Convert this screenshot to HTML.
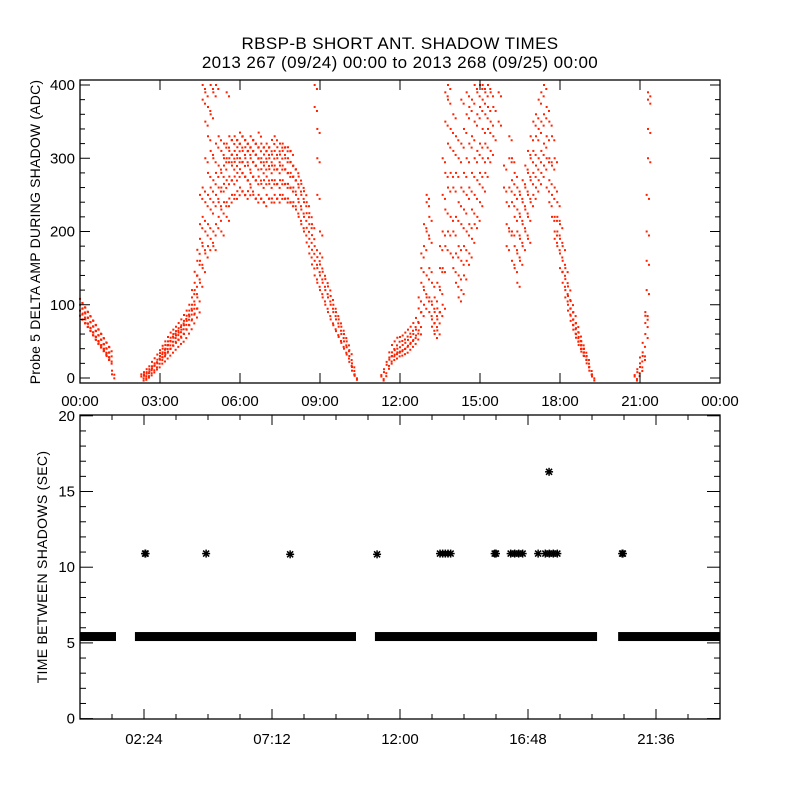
<!DOCTYPE html>
<html><head><meta charset="utf-8"><style>
html,body{margin:0;padding:0;background:#fff}
svg{display:block}
text{font-family:"Liberation Sans",sans-serif;fill:#000}
</style></head><body>
<svg id="chart" width="800" height="800" viewBox="0 0 800 800" xmlns="http://www.w3.org/2000/svg">
<rect width="800" height="800" fill="#fff"/>
<text x="400" y="49" font-size="17" letter-spacing="0.4" text-anchor="middle">RBSP-B SHORT ANT. SHADOW TIMES</text>
<text x="400" y="68" font-size="17" letter-spacing="0.4" text-anchor="middle">2013 267 (09/24) 00:00 to 2013 268 (09/25) 00:00</text>
<g id="topPlot"></g>
<g id="botPlot"></g>
<text transform="translate(40,232) rotate(-90)" font-size="14" letter-spacing="0.2" text-anchor="middle">Probe 5 DELTA AMP DURING SHADOW (ADC)</text>
<text transform="translate(47,567) rotate(-90)" font-size="14" letter-spacing="0.3" text-anchor="middle">TIME BETWEEN SHADOWS (SEC)</text>
</svg>
<script>
// ---- top plot data: hour of sample columns and amplitudes (ADC) ----
const ampHours=[0.0,0.1,0.2,0.3,0.4,0.5,0.6,0.7,0.8,0.9,1.0,1.1,1.2,
2.3,2.4,2.5,2.6,2.7,2.8,2.9,3.0,3.1,3.2,3.3,3.4,3.5,3.6,3.7,3.8,3.9,4.0,4.1,4.2,4.3,4.4,4.5,4.6,4.7,4.8,4.9,5.0,5.1,5.2,5.3,5.4,5.5,5.6,5.7,5.8,5.9,6.0,6.1,6.2,6.3,6.4,6.5,6.6,6.7,6.8,6.9,7.0,7.1,7.2,7.3,7.4,7.5,7.6,7.7,7.8,7.9,8.0,8.1,8.2,8.3,8.4,8.5,8.6,8.7,8.8,8.9,9.0,9.1,9.2,9.3,9.4,9.5,9.6,9.7,9.8,9.9,10.0,10.1,10.2,10.3,
11.3,11.4,11.5,11.6,11.7,11.8,11.9,12.0,12.1,12.2,12.3,12.4,12.5,12.6,12.7,12.8,12.9,13.0,13.1,13.2,13.3,13.4,13.5,13.6,13.7,13.8,13.9,14.0,14.1,14.2,14.3,14.4,14.5,14.6,14.7,14.8,14.9,15.0,15.1,15.2,15.3,15.4,15.5,15.7,15.9,16.0,16.1,16.2,16.3,16.4,16.5,16.6,16.7,16.8,16.9,17.0,17.1,17.2,17.3,17.4,17.5,17.6,17.7,17.8,17.9,18.0,18.1,18.2,18.3,18.4,18.5,18.6,18.7,18.8,18.9,19.0,19.1,19.2,
20.8,20.9,21.0,21.1,21.2,21.25,21.3];
const ampValues=[[100,108,92,85],[95,102,88,80],[88,96,80,75],[82,90,74,70],[76,84,68,64],[70,78,62,58],[64,72,56,52],[58,66,50,47],[52,60,45,42],[46,54,40,37],[40,48,34,30],[35,42,28,25],[10,5],
[2,5],[5,8,3],[8,12,6],[12,16,9],[16,22,13],[20,27,17],[25,32,20],[30,38,25,34],[35,44,28,40],[40,50,32,45],[45,56,36,50],[50,62,40,55],[55,66,44,60],[58,70,48,64],[62,75,52,68],[66,80,55,72],[72,86,60,78],[78,92,66,85],[84,100,72,92],[92,110,80,100,120],[100,120,88,130,145],[110,140,160,95,175],[130,160,190,210,250],[150,180,220,260,380,400],[170,200,240,300,350,390],[180,210,250,280,330,370],[190,230,260,310,360,400],[200,240,270,300,180,390],[210,250,280,320,400],[220,260,290,330,240],[230,260,280,310,200],[240,265,290,320,300],[240,270,300,320,390,220],[245,275,300,310,330],[250,270,290,305,325],[250,275,295,310,330],[255,280,300,315,325],[260,285,300,320,335],[255,280,295,310,330],[250,275,300,315,325],[255,270,290,310,320],[260,280,300,315,330],[250,275,295,310,325],[245,270,290,305,320],[250,275,300,315,335],[245,265,285,300,320],[240,270,290,305,315],[250,275,295,310,320],[245,265,285,300,315],[245,270,290,305,325],[250,270,290,310,330],[245,265,285,300,315],[250,270,290,305,320],[250,270,290,310,320],[245,265,285,300,315],[245,265,280,300,315],[240,260,280,295,310],[240,260,275,290],[230,250,270,285],[220,240,260,275],[210,230,250,265],[200,220,240,255],[185,205,225,240],[170,190,210,225],[155,175,195,210],[140,160,180,400,370],[130,150,165,340,300,250],[120,140,155,200,170],[110,130,145],[100,120,135],[90,110,125],[80,100,112],[72,90,100],[64,80,90],[56,70,80],[48,60,70],[40,50,60],[32,42,50],[22,30,38],[10,15,20],[3,5],
[2,4],[8,12],[18,22],[28,35,25],[35,45,30],[38,50,32],[40,55,35],[42,56,36],[45,58,38],[48,62,40],[52,66,44],[56,70,48],[60,75,52],[66,82,58],[75,95,65,110],[90,130,150,170],[120,180,210,100],[140,200,240,250,110],[110,150,190,220,90],[80,100,130,70],[60,75,90,110],[65,80,95,130],[90,120,150,180],[150,200,250,300,100],[180,230,280,350,390],[200,260,320,380,400],[170,220,280,340],[150,200,260,310,360],[130,170,220,280,330],[110,140,180,240,300],[120,160,210,260,320,380],[140,180,230,280,340],[160,200,250,300,360,390],[170,210,260,320,370],[190,230,280,330,380],[210,250,300,350,400],[220,270,310,360,390],[240,280,320,370,400],[260,300,340,380,400],[280,320,360,390],[300,340,370,400],[310,350,390],[330,370],[390,350],[290,260],[240,210,180],[330,300,260,200],[300,270,240,200,160],[280,250,220,180,150],[260,230,200,170,130],[250,220,190,160],[270,240,210,180],[290,260,230,200],[310,280,250,220,190],[330,300,270,240],[350,310,280,250],[360,330,290,260],[380,340,300,270],[390,350,310,280],[400,360,320,290],[370,330,300,260],[350,300,270,240],[330,290,250,220],[300,260,220,200,190],[240,220,200,180],[210,190,170,150],[180,160,145,130],[150,135,120,110],[125,112,100,92],[105,95,85,78],[90,80,72,66],[75,68,60,55],[62,56,50,45],[50,45,40,36],[40,35,30],[30,25,20],[15,10],[5,2],
[2,4],[8,12],[20,28,15],[35,48,30],[60,75,85,90],[120,160,200,250],[300,340,380,390]];
const topYTicks=[0,100,200,300,400];
const topXTickLabels=["00:00","03:00","06:00","09:00","12:00","15:00","18:00","21:00","00:00"];
// ---- bottom plot data ----
const runStart=[0,2.06,11.06,20.18];
const runEnd=[1.35,10.35,19.39,24];
const runValue=[5.42,5.42,5.42,5.42];
const starHours=[2.44,2.46,4.73,7.88,11.14,13.5,13.6,13.7,13.8,13.9,15.55,15.6,16.15,16.3,16.45,16.6,17.18,17.45,17.6,17.75,17.9,20.33,20.36,17.59];
const starValues=[10.9,10.9,10.9,10.85,10.85,10.9,10.9,10.9,10.9,10.9,10.9,10.9,10.9,10.9,10.9,10.9,10.9,10.9,10.9,10.9,10.9,10.9,10.9,16.3];
const botYTicks=[0,5,10,15,20];
const botXTicks=[2.4,7.2,12.0,16.8,21.6];
const botXTickLabels=["02:24","07:12","12:00","16:48","21:36"];

const NS="http://www.w3.org/2000/svg";
function mk(parent,tag,attrs){const e=document.createElementNS(NS,tag);for(const k in attrs)e.setAttribute(k,attrs[k]);parent.appendChild(e);return e;}
const L=80,R=720;
const xH=h=>L+(h/24)*(R-L);
// top axes
const tT=80,tB=383;
const yA=v=>378-v*0.7325;
const topG=document.getElementById('topPlot');
const ptsG=mk(topG,'g',{fill:'#ff2200'});


ampHours.forEach((h,i)=>{ampValues[i].forEach(v=>{
  if(v>407)return;
  const r=mk(ptsG,'rect',{x:xH(h)-1,y:yA(v)-1,width:2,height:2});
  
  
  const r2=mk(ptsG,'rect',{x:xH(h)+1.3,y:yA(v)+3,width:2,height:2});
  
  
});});
const tf=mk(topG,'rect',{x:L,y:tT,width:R-L,height:tB-tT,fill:'none',stroke:'#000','stroke-width':1.3});


for(let v=0;v<=400;v+=20){const major=v%100===0;const len=major?10:5;
  mk(topG,'line',{x1:L,x2:L+len,y1:yA(v),y2:yA(v),stroke:'#000'});
  mk(topG,'line',{x1:R,x2:R-len,y1:yA(v),y2:yA(v),stroke:'#000'});}
topYTicks.forEach(v=>{const t=mk(topG,'text',{x:L-5,y:yA(v)+5,'font-size':15,'text-anchor':'end'});t.textContent=v;
  
  });
topXTickLabels.forEach((s,i)=>{const x=xH(i*3);
  mk(topG,'line',{x1:x,x2:x,y1:tB,y2:tB-10,stroke:'#000'});
  mk(topG,'line',{x1:x,x2:x,y1:tT,y2:tT+10,stroke:'#000'});
  const t=mk(topG,'text',{x:x,y:406,'font-size':15,'text-anchor':'middle'});t.textContent=s;
  
  });
// bottom axes
const bT=415,bB=719;
const yS=v=>718.6-v*15.14;
const botG=document.getElementById('botPlot');
runStart.forEach((s,i)=>{const r=mk(botG,'rect',{x:xH(s),y:yS(runValue[i])-4.5,width:xH(runEnd[i])-xH(s),height:9,fill:'#000'});
  
  });
starHours.forEach((h,i)=>{const cx=xH(h),cy=yS(starValues[i]);const g=mk(botG,'g',{stroke:'#000','stroke-width':1.5});
  
  
  mk(g,'line',{x1:cx-4,x2:cx+4,y1:cy,y2:cy});mk(g,'line',{x1:cx,x2:cx,y1:cy-4,y2:cy+4});
  mk(g,'line',{x1:cx-3,x2:cx+3,y1:cy-3,y2:cy+3});mk(g,'line',{x1:cx-3,x2:cx+3,y1:cy+3,y2:cy-3});});
const bf=mk(botG,'rect',{x:L,y:bT,width:R-L,height:bB-bT,fill:'none',stroke:'#000','stroke-width':1.3});


for(let v=0;v<=20;v+=1){const major=v%5===0;const len=major?13:6;
  mk(botG,'line',{x1:L,x2:L+len,y1:yS(v),y2:yS(v),stroke:'#000'});
  mk(botG,'line',{x1:R,x2:R-len,y1:yS(v),y2:yS(v),stroke:'#000'});}
botYTicks.forEach(v=>{const t=mk(botG,'text',{x:L-5,y:yS(v)+5,'font-size':15,'text-anchor':'end'});t.textContent=v;
  
  });
for(let h=1.2;h<24;h+=1.2){const x=xH(h);const major=Math.abs(((h-2.4)/4.8)-Math.round((h-2.4)/4.8))<0.01;const len=major?10:5;
  mk(botG,'line',{x1:x,x2:x,y1:bB,y2:bB-len,stroke:'#000'});
  mk(botG,'line',{x1:x,x2:x,y1:bT,y2:bT+len,stroke:'#000'});}
botXTicks.forEach((h,i)=>{const t=mk(botG,'text',{x:xH(h),y:744,'font-size':15,'text-anchor':'middle'});t.textContent=botXTickLabels[i];
  
  });
</script>
</body></html>
